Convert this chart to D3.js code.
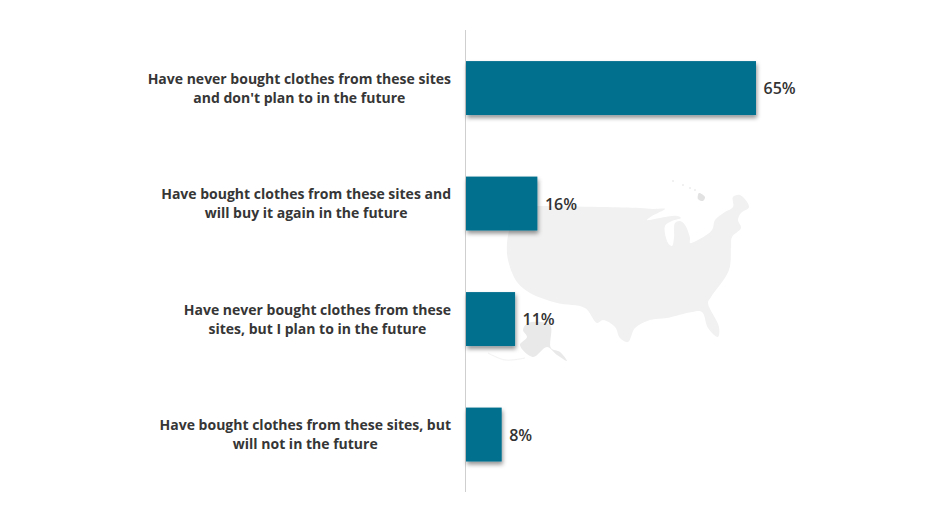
<!DOCTYPE html>
<html><head><meta charset="utf-8">
<script src="https://cdn.jsdelivr.net/npm/d3@7"></script>
<style>html,body{margin:0;background:#fff}svg{display:block}</style>
</head><body><svg id="c" width="925" height="521"></svg>
<script>
const categories = [
  ["Have never bought clothes from these sites","and don't plan to in the future"],
  ["Have bought clothes from these sites and","will buy it again in the future"],
  ["Have never bought clothes from these","sites, but I plan to in the future"],
  ["Have bought clothes from these sites, but","will not in the future"]
];
const values = [65,16,11,8];
const labels = ["65%","16%","11%","8%"];
// Background map silhouette (decoration), in page pixels
const usOutline = [[512,206],[538,206],[600,207],[640,208],[653,209],[665,209],[652,216],[647,220],[660,218],[677,216],[681,218],[672,221],[665,226],[668,243],[672,246],[674,238],[675,223],[680,221],[685,225],[690,238],[690,243],[698,240],[712,230],[715,220],[725,212],[733,207],[733,197],[740,195],[749,207],[741,213],[738,220],[741,228],[732,237],[731,247],[729,270],[711,297],[708,303],[719,327],[718,337],[708,328],[702,312],[692,312],[667,318],[650,320],[635,328],[628,342],[620,338],[615,327],[603,320],[597,323],[585,308],[557,303],[530,293],[517,282],[508,260],[507,243],[510,225]];
const alaska = [[528,323],[550,325],[551,348],[560,352],[567,361],[557,355],[547,347],[533,357],[520,345],[527,337],[523,330]];
const aleutians = [[488,353],[505,360],[525,358]];
const hawaii = [[699,193],[705,197],[703,201],[698,199]];
const hawaiiSpecks = [[673,181],[683,185],[690,188],[695,190]];

const svg=d3.select("#c");
const defs=svg.append("defs");
const f=defs.append("filter").attr("id","sh").attr("x","-20%").attr("y","-20%").attr("width","140%").attr("height","150%");
f.append("feDropShadow").attr("dx",1).attr("dy",3).attr("stdDeviation",2.2).attr("flood-color","#000").attr("flood-opacity",.42);

const closed=d3.line().curve(d3.curveCatmullRomClosed.alpha(.5));
const open=d3.line().curve(d3.curveCatmullRom.alpha(.5));
const g=svg.append("g");
g.append("path").attr("d",closed(usOutline)).attr("fill","#f1f1f1");
g.append("path").attr("d",closed(alaska)).attr("fill","#e9e9e9");
g.append("path").attr("d",open(aleutians)).attr("fill","none").attr("stroke","#f2f2f2");
g.append("path").attr("d",closed(hawaii)).attr("fill","#e2e2e2");
g.selectAll("circle.sp").data(hawaiiSpecks).join("circle").attr("cx",d=>d[0]).attr("cy",d=>d[1]).attr("r",1).attr("fill","#ececec");

const x=d3.scaleLinear().domain([0,65]).range([466,756]);
const y=d3.scaleBand().domain(d3.range(values.length)).range([30.3,492.3]).paddingInner(.533).paddingOuter(.2665);

svg.append("line").attr("x1",465.5).attr("x2",465.5).attr("y1",30).attr("y2",492).attr("stroke","#cfcfcf");

svg.selectAll("rect.b").data(values).join("rect").attr("class","b")
  .attr("x",x(0)).attr("y",(d,i)=>y(i)).attr("width",d=>x(d)-x(0)).attr("height",y.bandwidth())
  .attr("fill","#006f8e").attr("filter","url(#sh)");

const font="'Open Sans',sans-serif";
const t=svg.selectAll("text.c").data(categories).join("text").attr("class","c")
  .attr("font-family",font).attr("font-weight",700).attr("font-size",14).attr("fill","#363636")
  .attr("text-anchor","middle");
t.each(function(d,i){
  const s=d3.select(this);
  const spans=s.selectAll("tspan").data(d).join("tspan").text(l=>l)
   .attr("y",(l,j)=>y(i)+y.bandwidth()/2-4.2+j*18.8);
  const w=d3.max(spans.nodes(),n=>n.getComputedTextLength());
  spans.attr("x",451-w/2);
});
svg.selectAll("text.v").data(values).join("text").attr("class","v")
  .attr("x",d=>x(d)+7.5).attr("y",(d,i)=>y(i)+y.bandwidth()/2+6)
  .attr("font-family",font).attr("font-weight",600).attr("font-size",16).attr("fill","#333")
  .text((d,i)=>labels[i]);
</script></body></html>
